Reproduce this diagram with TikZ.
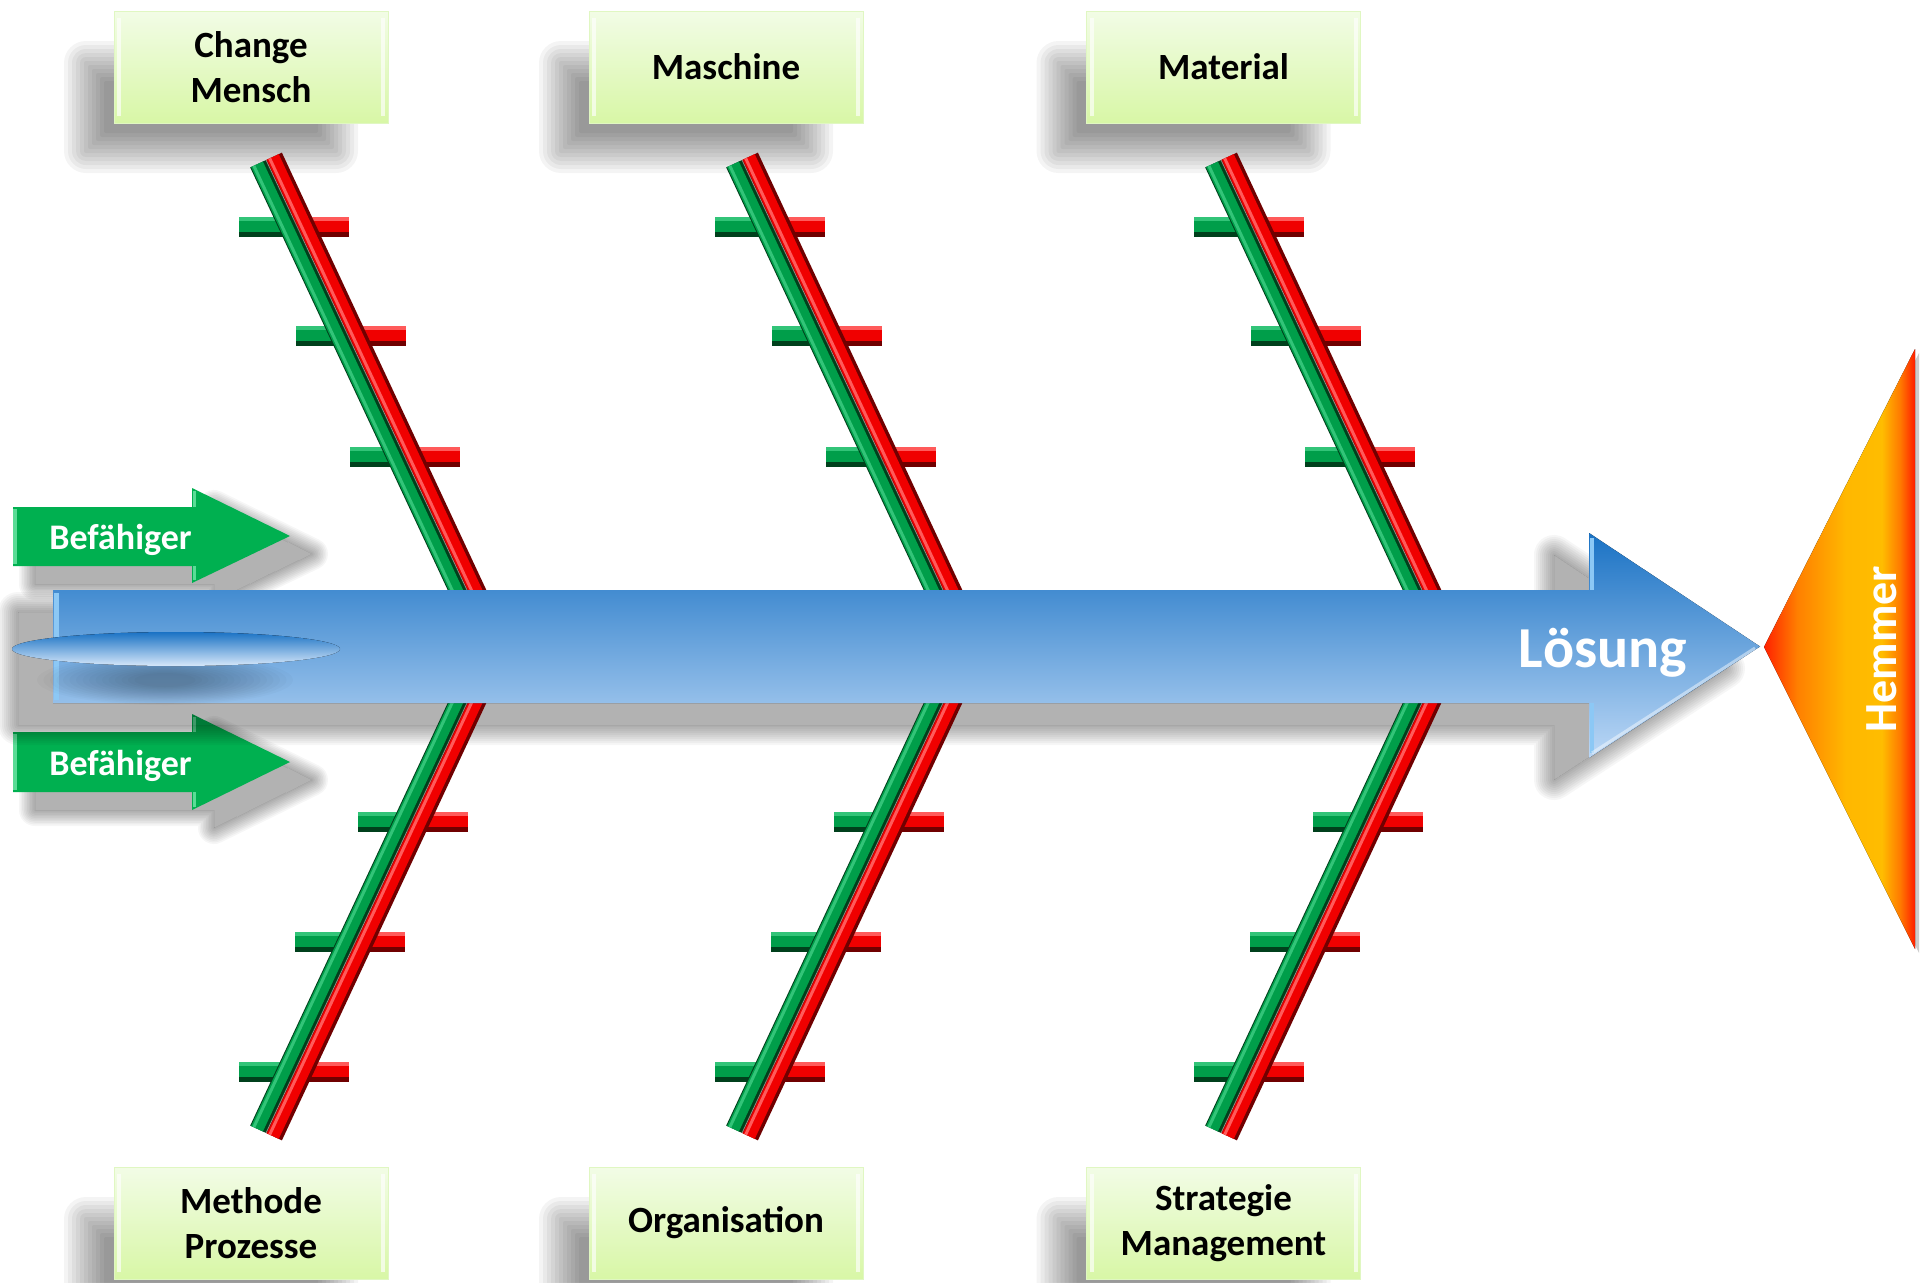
\documentclass[tikz,border=0pt]{standalone}
\usepackage{fontspec}
\setmainfont{Carlito}

% colours
\definecolor{boxtop}{RGB}{242,252,230}
\definecolor{boxbot}{RGB}{216,247,166}
\definecolor{boxedge}{RGB}{224,247,194}
\definecolor{befgreen}{RGB}{0,176,80}
\definecolor{befedge}{RGB}{90,220,150}
\definecolor{arrtop}{RGB}{26,114,196}
\definecolor{arrbot}{RGB}{188,216,246}
\definecolor{arredge}{RGB}{140,200,245}
\definecolor{gdark}{RGB}{0,64,28}
\definecolor{gmid}{RGB}{0,158,74}
\definecolor{glight}{RGB}{50,196,120}
\definecolor{rdark}{RGB}{112,0,0}
\definecolor{rmid}{RGB}{240,0,0}
\definecolor{rlight}{RGB}{255,90,90}

% orange-yellow-red shading of the "Hemmer" head
\pgfdeclarehorizontalshading{hemmershade}{100bp}{%
  rgb(0bp)=(1,0.13,0); rgb(25bp)=(1,0.13,0); rgb(36bp)=(1,0.5,0);
  rgb(52bp)=(1,0.72,0); rgb(64bp)=(1,0.74,0); rgb(70bp)=(1,0.48,0);
  rgb(75bp)=(1,0.12,0); rgb(100bp)=(1,0.12,0)}

\tikzset{
  catbox/.style={draw=boxedge, line width=1pt, top color=boxtop, bottom color=boxbot,
    minimum width=274pt, minimum height=112pt, inner sep=0pt, align=center,
    font=\bfseries\fontsize{37}{44.5}\selectfont, text=black,
    path picture={
      \draw[white, opacity=.65, line width=4pt]
        ([xshift=5pt,yshift=-7pt]path picture bounding box.north west) --
        ([xshift=5pt,yshift=7pt]path picture bounding box.south west);
      \draw[white, opacity=.65, line width=4pt]
        ([xshift=-5pt,yshift=-7pt]path picture bounding box.north east) --
        ([xshift=-5pt,yshift=7pt]path picture bounding box.south east);}},
  befarrow/.style={fill=befgreen},
  beflabel/.style={text=white, anchor=base, inner sep=0pt,
    font=\bfseries\fontsize{36}{40}\selectfont},
}

% soft shadow of a clockwise closed polygon: x shift, y shift, blur radius, path
\newcommand{\polyshadow}[4]{%
  \begin{scope}[shift={(#1,#2)}]
    \begin{scope}[even odd rule]
      \clip (-3000,3000) -- (-3000,-3000) -- (5000,-3000)
        -- (5000,3000) -- cycle #4;
      \foreach \k in {1,...,10}{
        \draw[black, opacity=0.036, line join=round, line width={0.2*\k*#3}] #4;
      }
    \end{scope}
    \fill[black, opacity=0.30] #4;
  \end{scope}}

% soft shadow of a rectangle given by its core corners (image coordinates)
\newcommand{\boxshadow}[4]{%
  \foreach \e/\rc in {20/22,16/18,12/14,8/10,4/6,0/2,-4/2,-8/2,-12/2,-16/2,-20/2}{
    \fill[black, opacity=0.042, rounded corners=\rc pt]
      ({#1-(\e)},{-#2+(\e)}) rectangle ({#3+(\e)},{-#4-(\e)});
  }}

% one bone: green bar on the left, red bar on the right, along local x
\newcommand{\bonebars}{%
  \draw[gdark, line width=17.5pt] (-60,8.75) -- (474.6,8.75);
  \draw[gmid, line width=13pt] (-60,10) -- (474.6,10);
  \draw[glight, line width=3pt] (-60,13.5) -- (474.6,13.5);
  \draw[rdark, line width=17.5pt] (-60,-8.75) -- (474.6,-8.75);
  \draw[rmid, line width=13pt] (-60,-7.5) -- (474.6,-7.5);
  \draw[rlight, line width=3pt] (-60,-4) -- (474.6,-4);
  \draw[white, opacity=.35, line width=1pt] (-60,0) -- (474.6,0);
}

% one rib: centre x, image y
\newcommand{\ribbar}[2]{%
  \fill[gmid] ({#1-55},{-#2+10}) rectangle ({#1},{-#2-10});
  \fill[glight] ({#1-55},{-#2+10}) rectangle ({#1},{-#2+6});
  \fill[gdark] ({#1-55},{-#2-5}) rectangle ({#1},{-#2-10});
  \fill[rmid] ({#1},{-#2+10}) rectangle ({#1+55},{-#2-10});
  \fill[rlight] ({#1},{-#2+10}) rectangle ({#1+55},{-#2+6});
  \fill[rdark] ({#1},{-#2-5}) rectangle ({#1+55},{-#2-10});
}

\begin{document}
\begin{tikzpicture}[x=1pt,y=1pt]
\useasboundingbox (0,0) rectangle (1921,-1282);
\clip (0,0) rectangle (1921,-1282);
\fill[white] (0,0) rectangle (1921,-1282);

% shadows of the category boxes
\foreach \cx in {251,726,1223.5}{
  \boxshadow{\cx-167}{61}{\cx+87}{153}
  \boxshadow{\cx-167}{1217}{\cx+87}{1309}
}

% category boxes
\node[catbox] (mensch) at (251,-67) {Change\\Mensch};
\node[catbox] (maschine) at (726,-67) {Maschine};
\node[catbox] (material) at (1223.5,-67) {Material};
\node[catbox] (methode) at (251,-1223) {Methode\\Prozesse};
\node[catbox] (organisation) at (726,-1223) {Organisation};
\node[catbox] (strategie) at (1223.5,-1223) {Strategie\\Management};

% enabler arrows
\polyshadow{22}{-18}{16}{(13,-507) -- (192,-507) -- (192,-488) -- (290,-536)
  -- (192,-583) -- (192,-566) -- (13,-566) -- cycle}
\polyshadow{22}{-18}{16}{(13,-732) -- (192,-732) -- (192,-714) -- (290,-762)
  -- (192,-810) -- (192,-792) -- (13,-792) -- cycle}
\fill[befarrow] (13,-507) -- (192,-507) -- (192,-488) -- (290,-536) -- (192,-583)
  -- (192,-566) -- (13,-566) -- cycle;
\fill[befarrow] (13,-732) -- (192,-732) -- (192,-714) -- (290,-762) -- (192,-810)
  -- (192,-792) -- (13,-792) -- cycle;
\draw[befedge, line width=4pt] (15,-509) -- (15,-564);
\draw[befedge, line width=4pt] (15,-734) -- (15,-790);
\draw[befedge, line width=3pt] (194,-491) -- (194,-507) (194,-566) -- (194,-580);
\draw[befedge, line width=3pt] (194,-717) -- (194,-732) (194,-792) -- (194,-807);
\node[beflabel] (bef1) at (120.5,-549) {Befähiger};
\node[beflabel] (bef2) at (120.5,-775) {Befähiger};

% shadow of the spine
\polyshadow{-35}{-22}{20}{(53,-590) -- (1589,-590) -- (1589,-533) -- (1760,-646.5)
  -- (1589,-758) -- (1589,-703) -- (53,-703) -- cycle}

% ribs
\foreach \off in {0,476,955}{
  \foreach \rx/\ry in {294/227, 350.5/335.5, 404.5/457, 413/822, 350/942, 294/1072}{
    \ribbar{\rx+\off}{\ry}
  }
}

% bones
\foreach \off in {0,476,955}{
  \begin{scope}[shift={(467+\off,-590)}, rotate=115.05]
    \bonebars
  \end{scope}
  \begin{scope}[shift={(467+\off,-703)}, yscale=-1, rotate=115.05]
    \bonebars
  \end{scope}
}

% spine arrow
\fill[top color=arrtop, bottom color=arrbot]
  (53,-590) -- (1589,-590) -- (1589,-533) -- (1760,-646.5) -- (1589,-758)
  -- (1589,-703) -- (53,-703) -- cycle;
\draw[arredge, line width=5pt] (56,-593) -- (56,-700);
\draw[arredge, line width=4pt] (1592,-538) -- (1592,-590) (1592,-703) -- (1592,-753);
\draw[white, opacity=.45, line width=3pt] (1592,-753) -- (1755,-648);

% darker patch under the highlight
\foreach \k in {0,...,15}{
  \fill[black, opacity=0.018] (165,-680) ellipse [x radius={128-6.5*\k}, y radius={25-1.2*\k}];
}
% highlight on the spine
\fill[top color=arrtop, bottom color=arrbot!60!white]
  (176,-649) ellipse [x radius=164, y radius=17];

\node[text=white, anchor=base, inner sep=0pt, font=\bfseries\fontsize{58}{60}\selectfont]
  (loesung) at (1603,-667) {Lösung};

% head
\fill[black, opacity=.2] (1768,-651) -- (1919,-353) -- (1919,-953) -- cycle;
\fill[shading=hemmershade] (1764,-647) -- (1915,-349) -- (1915,-949) -- cycle;
\node[rotate=90, text=white, inner sep=0pt, font=\bfseries\fontsize{46}{50}\selectfont]
  (hemmer) at (1882,-649) {Hemmer};
\end{tikzpicture}
\end{document}
